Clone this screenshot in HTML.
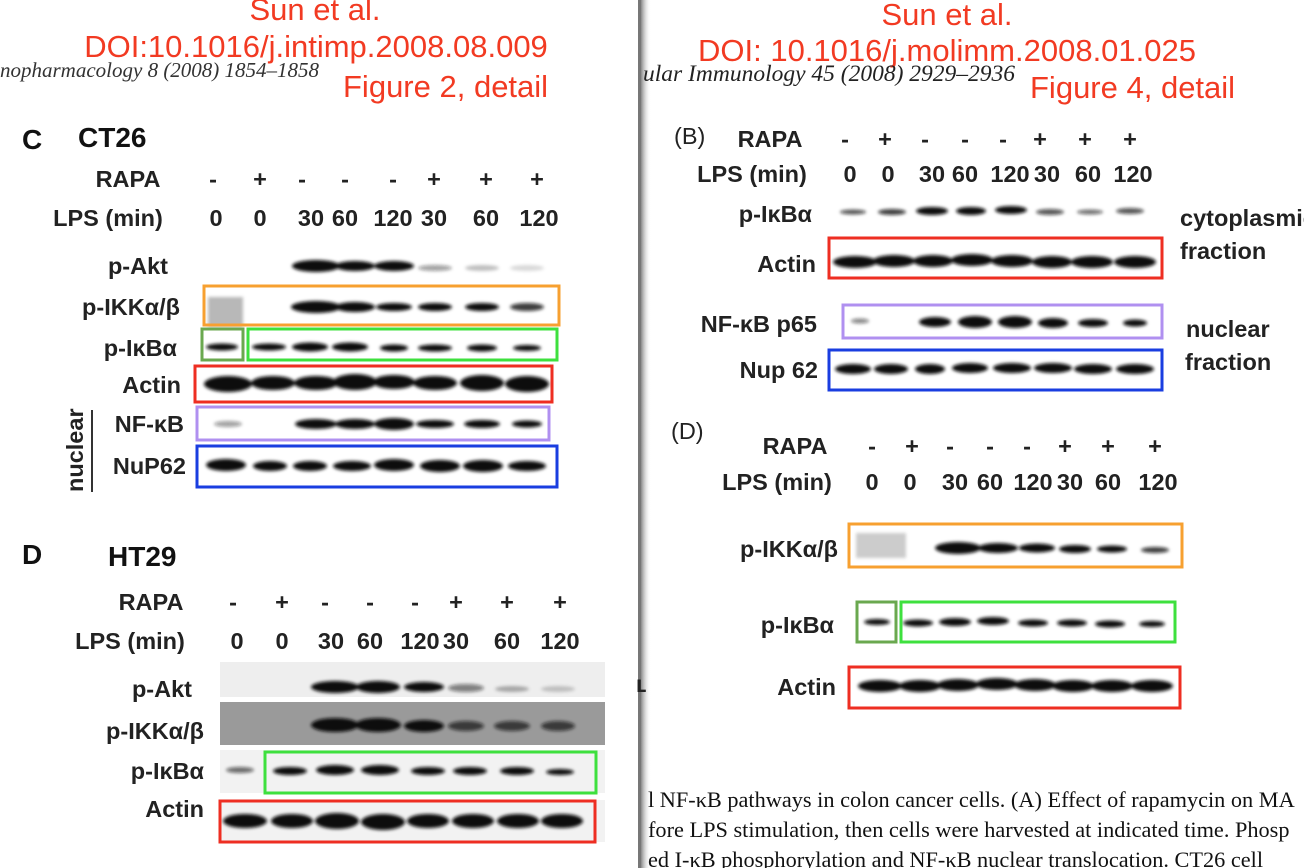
<!DOCTYPE html>
<html><head><meta charset="utf-8"><style>
html,body{margin:0;padding:0;background:#fff;}
svg{display:block}
.r{fill:#f23a22;font-family:"Liberation Sans",sans-serif;font-size:31px}
.it{font-family:"Liberation Serif",serif;font-style:italic;font-size:21px;fill:#333}
.it2{font-family:"Liberation Serif",serif;font-style:italic;font-size:23.5px;fill:#222}
.l{font-family:"Liberation Sans",sans-serif;font-weight:bold;font-size:23.5px;fill:#222}
.big{font-family:"Liberation Sans",sans-serif;font-weight:bold;font-size:28px;fill:#111}
.cap{font-family:"Liberation Serif",serif;font-size:22.3px;fill:#111}
</style></head><body>
<svg width="1304" height="868" viewBox="0 0 1304 868" xmlns="http://www.w3.org/2000/svg">
<defs><filter id="b" x="-20%" y="-50%" width="140%" height="200%"><feGaussianBlur stdDeviation="1.6"/></filter>
<linearGradient id="sh" x1="0" x2="1"><stop offset="0" stop-color="#888"/><stop offset="1" stop-color="#fff" stop-opacity="0"/></linearGradient></defs>
<rect x="638" y="0" width="3" height="868" fill="#777"/>
<rect x="641" y="0" width="10" height="868" fill="url(#sh)"/>

<text class="r" x="315" y="20" text-anchor="middle">Sun et al.</text>
<text class="r" x="316" y="57" text-anchor="middle">DOI:10.1016/j.intimp.2008.08.009</text>
<text class="it" x="0" y="77">nopharmacology 8 (2008) 1854–1858</text>
<text class="r" x="343" y="97">Figure 2, detail</text>

<text class="big" x="22" y="149">C</text>
<text class="big" x="78" y="147">CT26</text>
<g class="l" text-anchor="middle">
<text x="128" y="187">RAPA</text>
<text x="108" y="226">LPS (min)</text>
<text x="213" y="187">-</text><text x="260" y="187">+</text><text x="302" y="187">-</text><text x="345" y="187">-</text><text x="393" y="187">-</text><text x="434" y="187">+</text><text x="486" y="187">+</text><text x="537" y="187">+</text>
<text x="216" y="226">0</text><text x="260" y="226">0</text><text x="311" y="226">30</text><text x="345" y="226">60</text><text x="393" y="226">120</text><text x="434" y="226">30</text><text x="486" y="226">60</text><text x="539" y="226">120</text>
</g>
<g class="l" text-anchor="end">
<text x="168" y="274">p-Akt</text>
<text x="180" y="315">p-IKKα/β</text>
<text x="177" y="356">p-IκBα</text>
<text x="181" y="393">Actin</text>
<text x="184" y="432">NF-κB</text>
<text x="186" y="474">NuP62</text>
</g>
<text class="l" transform="translate(83,492) rotate(-90)">nuclear</text>
<rect x="91" y="410" width="2" height="82" fill="#333"/>

<g filter="url(#b)" fill="#111">
<ellipse cx="316" cy="266" rx="24" ry="6"/><ellipse cx="355" cy="266" rx="20" ry="5"/><ellipse cx="394" cy="266" rx="20" ry="5"/>
<ellipse cx="435" cy="268" rx="17" ry="3" opacity=".4"/><ellipse cx="482" cy="268" rx="17" ry="3" opacity=".25"/><ellipse cx="527" cy="268" rx="17" ry="3" opacity=".15"/>
<rect x="208" y="297" width="35" height="30" fill="#888" opacity=".6"/>
<ellipse cx="316" cy="307" rx="25" ry="6"/><ellipse cx="355" cy="307" rx="20" ry="5"/><ellipse cx="394" cy="307" rx="18" ry="4"/><ellipse cx="435" cy="307" rx="17" ry="4"/><ellipse cx="482" cy="307" rx="17" ry="4"/><ellipse cx="527" cy="307" rx="17" ry="4" opacity=".8"/>
<ellipse cx="222" cy="347" rx="16" ry="3.5"/><ellipse cx="269" cy="347" rx="17" ry="3.5"/><ellipse cx="310" cy="347" rx="18" ry="4.5"/><ellipse cx="350" cy="347" rx="18" ry="4.5"/><ellipse cx="394" cy="348" rx="14" ry="3.5"/><ellipse cx="435" cy="348" rx="17" ry="3.5"/><ellipse cx="482" cy="348" rx="15" ry="3.5"/><ellipse cx="527" cy="348" rx="14" ry="3"/>
<ellipse cx="228" cy="384" rx="24" ry="8"/><ellipse cx="273" cy="383" rx="22" ry="7"/><ellipse cx="316" cy="383" rx="22" ry="7"/><ellipse cx="355" cy="382" rx="22" ry="8"/><ellipse cx="394" cy="382" rx="21" ry="7"/><ellipse cx="435" cy="383" rx="22" ry="7"/><ellipse cx="482" cy="383" rx="22" ry="8"/><ellipse cx="527" cy="384" rx="22" ry="8"/>
<ellipse cx="228" cy="424" rx="14" ry="3" opacity=".4"/><ellipse cx="316" cy="424" rx="21" ry="5"/><ellipse cx="355" cy="424" rx="20" ry="5"/><ellipse cx="394" cy="424" rx="20" ry="6"/><ellipse cx="435" cy="424" rx="19" ry="4"/><ellipse cx="482" cy="424" rx="18" ry="4"/><ellipse cx="527" cy="424" rx="15" ry="3.5"/>
<ellipse cx="226" cy="465" rx="20" ry="6"/><ellipse cx="270" cy="466" rx="17" ry="5"/><ellipse cx="310" cy="466" rx="17" ry="5"/><ellipse cx="352" cy="466" rx="19" ry="5"/><ellipse cx="394" cy="465" rx="20" ry="6"/><ellipse cx="440" cy="466" rx="20" ry="6"/><ellipse cx="483" cy="466" rx="20" ry="6"/><ellipse cx="527" cy="466" rx="19" ry="5"/>
</g>
<g fill="none" stroke-width="3">
<rect x="204" y="286" width="355" height="39" stroke="#f7a030"/>
<rect x="202" y="329" width="41" height="31" stroke="#6aa84f"/>
<rect x="248" y="329" width="309" height="31" stroke="#3ee03e"/>
<rect x="195" y="366" width="357" height="36" stroke="#ee2e22"/>
<rect x="197" y="407" width="352" height="33" stroke="#b090f0"/>
<rect x="197" y="446" width="360" height="41" stroke="#1a3ee0"/>
</g>

<text class="big" x="22" y="564">D</text>
<text class="big" x="108" y="566">HT29</text>
<g class="l" text-anchor="middle">
<text x="151" y="610">RAPA</text>
<text x="130" y="649">LPS (min)</text>
<text x="233" y="610">-</text><text x="282" y="610">+</text><text x="325" y="610">-</text><text x="370" y="610">-</text><text x="415" y="610">-</text><text x="456" y="610">+</text><text x="507" y="610">+</text><text x="560" y="610">+</text>
<text x="237" y="649">0</text><text x="282" y="649">0</text><text x="331" y="649">30</text><text x="370" y="649">60</text><text x="420" y="649">120</text><text x="456" y="649">30</text><text x="507" y="649">60</text><text x="560" y="649">120</text>
</g>
<g class="l" text-anchor="end">
<text x="192" y="697">p-Akt</text>
<text x="204" y="739">p-IKKα/β</text>
<text x="204" y="779">p-IκBα</text>
<text x="204" y="817">Actin</text>
</g>
<rect x="220" y="662" width="385" height="35" fill="#eee"/>
<rect x="220" y="702" width="385" height="43" fill="#9a9a9a"/>
<rect x="220" y="750" width="385" height="43" fill="#f2f2f2"/>
<rect x="220" y="800" width="385" height="42" fill="#f2f2f2"/>
<g filter="url(#b)" fill="#111">
<ellipse cx="335" cy="687" rx="24" ry="6"/><ellipse cx="378" cy="687" rx="22" ry="6"/><ellipse cx="424" cy="687" rx="20" ry="5"/><ellipse cx="466" cy="688" rx="18" ry="4" opacity=".5"/><ellipse cx="512" cy="689" rx="17" ry="3" opacity=".3"/><ellipse cx="558" cy="689" rx="17" ry="3" opacity=".2"/>
<ellipse cx="335" cy="725" rx="24" ry="7"/><ellipse cx="378" cy="725" rx="23" ry="7"/><ellipse cx="424" cy="726" rx="20" ry="6"/><ellipse cx="466" cy="726" rx="18" ry="5" opacity=".7"/><ellipse cx="512" cy="726" rx="18" ry="5" opacity=".7"/><ellipse cx="558" cy="726" rx="17" ry="5" opacity=".7"/>
<ellipse cx="240" cy="770" rx="14" ry="3" opacity=".6"/><ellipse cx="290" cy="771" rx="17" ry="4"/><ellipse cx="335" cy="770" rx="19" ry="5"/><ellipse cx="380" cy="770" rx="19" ry="5"/><ellipse cx="428" cy="771" rx="17" ry="4"/><ellipse cx="470" cy="771" rx="17" ry="4"/><ellipse cx="517" cy="771" rx="17" ry="4"/><ellipse cx="560" cy="772" rx="14" ry="3"/>
<ellipse cx="245" cy="821" rx="22" ry="7"/><ellipse cx="292" cy="821" rx="21" ry="7"/><ellipse cx="337" cy="821" rx="22" ry="8"/><ellipse cx="383" cy="822" rx="22" ry="8"/><ellipse cx="428" cy="821" rx="21" ry="7"/><ellipse cx="473" cy="821" rx="21" ry="7"/><ellipse cx="518" cy="821" rx="21" ry="7"/><ellipse cx="562" cy="821" rx="21" ry="7"/>
</g>
<g fill="none" stroke-width="3">
<rect x="265" y="752" width="331" height="41" stroke="#3ee03e"/>
<rect x="220" y="801" width="375" height="41" stroke="#ee2e22"/>
</g>

<text class="r" x="947" y="25" text-anchor="middle">Sun et al.</text>
<text class="r" x="947" y="61" text-anchor="middle">DOI: 10.1016/j.molimm.2008.01.025</text>
<text class="it2" x="643" y="81">ular Immunology 45 (2008) 2929–2936</text>
<text class="r" x="1030" y="98">Figure 4, detail</text>

<text class="l" x="674" y="144" style="font-weight:normal">(B)</text>
<g class="l" text-anchor="middle">
<text x="770" y="147">RAPA</text>
<text x="752" y="182">LPS (min)</text>
<text x="845" y="147">-</text><text x="885" y="147">+</text><text x="925" y="147">-</text><text x="965" y="147">-</text><text x="1003" y="147">-</text><text x="1040" y="147">+</text><text x="1085" y="147">+</text><text x="1130" y="147">+</text>
<text x="850" y="182">0</text><text x="888" y="182">0</text><text x="932" y="182">30</text><text x="965" y="182">60</text><text x="1010" y="182">120</text><text x="1047" y="182">30</text><text x="1088" y="182">60</text><text x="1133" y="182">120</text>
</g>
<g class="l" text-anchor="end">
<text x="812" y="222">p-IκBα</text>
<text x="816" y="272">Actin</text>
<text x="817" y="332">NF-κB p65</text>
<text x="818" y="378">Nup 62</text>
</g>
<g class="l">
<text x="1180" y="226">cytoplasmic</text>
<text x="1180" y="259">fraction</text>
<text x="1186" y="337">nuclear</text>
<text x="1185" y="370">fraction</text>
</g>
<g filter="url(#b)" fill="#111">
<ellipse cx="853" cy="212" rx="13" ry="2.5" opacity=".7"/><ellipse cx="892" cy="212" rx="14" ry="3" opacity=".8"/><ellipse cx="932" cy="211" rx="16" ry="4"/><ellipse cx="971" cy="211" rx="15" ry="4"/><ellipse cx="1011" cy="210" rx="16" ry="4"/><ellipse cx="1050" cy="212" rx="14" ry="3" opacity=".7"/><ellipse cx="1090" cy="212" rx="13" ry="2.5" opacity=".6"/><ellipse cx="1130" cy="211" rx="14" ry="3" opacity=".7"/>
<ellipse cx="855" cy="262" rx="22" ry="6"/><ellipse cx="894" cy="261" rx="21" ry="6"/><ellipse cx="933" cy="261" rx="20" ry="6"/><ellipse cx="972" cy="260" rx="21" ry="6"/><ellipse cx="1012" cy="261" rx="21" ry="6"/><ellipse cx="1052" cy="262" rx="20" ry="6"/><ellipse cx="1092" cy="262" rx="21" ry="6"/><ellipse cx="1135" cy="262" rx="21" ry="6"/>
<ellipse cx="860" cy="321" rx="9" ry="2.5" opacity=".5"/><ellipse cx="935" cy="322" rx="16" ry="5"/><ellipse cx="975" cy="322" rx="17" ry="6"/><ellipse cx="1015" cy="322" rx="17" ry="6"/><ellipse cx="1053" cy="323" rx="15" ry="5"/><ellipse cx="1093" cy="323" rx="15" ry="4"/><ellipse cx="1135" cy="323" rx="12" ry="3.5"/>
<ellipse cx="853" cy="369" rx="18" ry="5"/><ellipse cx="891" cy="369" rx="17" ry="5"/><ellipse cx="930" cy="369" rx="15" ry="5"/><ellipse cx="970" cy="368" rx="18" ry="5"/><ellipse cx="1012" cy="368" rx="19" ry="5"/><ellipse cx="1053" cy="368" rx="19" ry="5"/><ellipse cx="1093" cy="369" rx="19" ry="5"/><ellipse cx="1135" cy="369" rx="19" ry="5"/>
</g>
<g fill="none" stroke-width="3">
<rect x="829" y="238" width="333" height="40" stroke="#ee2e22"/>
<rect x="843" y="305" width="319" height="33" stroke="#b090f0"/>
<rect x="829" y="350" width="333" height="40" stroke="#1a3ee0"/>
</g>

<text class="l" x="671" y="439" style="font-weight:normal">(D)</text>
<g class="l" text-anchor="middle">
<text x="795" y="454">RAPA</text>
<text x="777" y="490">LPS (min)</text>
<text x="872" y="454">-</text><text x="912" y="454">+</text><text x="950" y="454">-</text><text x="990" y="454">-</text><text x="1027" y="454">-</text><text x="1065" y="454">+</text><text x="1108" y="454">+</text><text x="1155" y="454">+</text>
<text x="872" y="490">0</text><text x="910" y="490">0</text><text x="955" y="490">30</text><text x="990" y="490">60</text><text x="1033" y="490">120</text><text x="1070" y="490">30</text><text x="1108" y="490">60</text><text x="1158" y="490">120</text>
</g>
<g class="l" text-anchor="end">
<text x="838" y="557">p-IKKα/β</text>
<text x="834" y="633">p-IκBα</text>
<text x="836" y="695">Actin</text>
</g>
<text class="l" x="636" y="692">ʟ</text>
<g filter="url(#b)" fill="#111">
<rect x="856" y="533" width="50" height="25" fill="#999" opacity=".5"/>
<ellipse cx="958" cy="548" rx="23" ry="6"/><ellipse cx="998" cy="548" rx="20" ry="5"/><ellipse cx="1037" cy="548" rx="18" ry="4.5"/><ellipse cx="1075" cy="549" rx="16" ry="4"/><ellipse cx="1112" cy="549" rx="15" ry="3.5"/><ellipse cx="1155" cy="550" rx="14" ry="3" opacity=".8"/>
<ellipse cx="877" cy="622" rx="13" ry="3"/><ellipse cx="918" cy="623" rx="15" ry="3.5"/><ellipse cx="955" cy="622" rx="16" ry="4"/><ellipse cx="993" cy="621" rx="16" ry="4"/><ellipse cx="1033" cy="623" rx="15" ry="3.5"/><ellipse cx="1072" cy="623" rx="15" ry="3.5"/><ellipse cx="1110" cy="624" rx="15" ry="3.5"/><ellipse cx="1152" cy="624" rx="13" ry="3"/>
<ellipse cx="880" cy="686" rx="22" ry="6"/><ellipse cx="920" cy="686" rx="21" ry="6"/><ellipse cx="958" cy="685" rx="21" ry="6"/><ellipse cx="997" cy="684" rx="21" ry="6"/><ellipse cx="1035" cy="685" rx="21" ry="6"/><ellipse cx="1073" cy="686" rx="21" ry="6"/><ellipse cx="1112" cy="686" rx="21" ry="6"/><ellipse cx="1152" cy="686" rx="21" ry="6"/>
</g>
<g fill="none" stroke-width="3">
<rect x="849" y="524" width="333" height="43" stroke="#f7a030"/>
<rect x="857" y="602" width="39" height="40" stroke="#6aa84f"/>
<rect x="901" y="602" width="274" height="40" stroke="#3ee03e"/>
<rect x="849" y="667" width="331" height="41" stroke="#ee2e22"/>
</g>

<text class="cap" x="648" y="807">l NF-κB pathways in colon cancer cells. (A) Effect of rapamycin on MA</text>
<text class="cap" x="648" y="837">fore LPS stimulation, then cells were harvested at indicated time. Phosp</text>
<text class="cap" x="648" y="867">ed I-κB phosphorylation and NF-κB nuclear translocation. CT26 cell</text>
</svg>
</body></html>
